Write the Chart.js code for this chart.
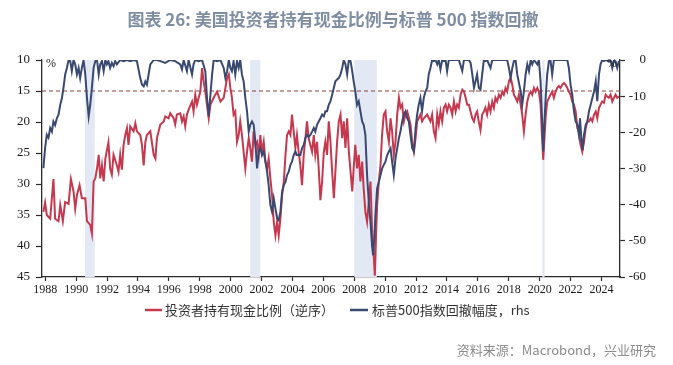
<!DOCTYPE html>
<html>
<head>
<meta charset="utf-8">
<script src="https://cdn.jsdelivr.net/npm/chart.js@4.4.1/dist/chart.umd.min.js"></script>
<style>
html,body{margin:0;padding:0;background:#fff;}
#wrap{width:673px;height:365px;position:relative;}
</style>
</head>
<body>
<div id="wrap"><canvas id="c" width="673" height="365"></canvas></div>
<script>
// ---- data ----
const titleText = "图表 26: 美国投资者持有现金比例与标普 500 指数回撤";
const sourceText = "资料来源：Macrobond，兴业研究";
const seriesNames = ["投资者持有现金比例（逆序）", "标普500指数回撤幅度，rhs"];
const xTickYears = [1988,1990,1992,1994,1996,1998,2000,2002,2004,2006,2008,2010,2012,2014,2016,2018,2020,2022,2024];
const xRange = [1987.79, 2025.2];
const leftRange = [10, 45];
const rightRange = [-60, 0];
const refLevel = 15;
const recessions = [[1990.58,1991.2],[2001.27,2001.92],[2008.0,2009.46],[2020.17,2020.32]];

const cashYears = [
1987.88,1987.99,1988.10,1988.32,1988.53,1988.64,1988.86,1988.97,1989.14,1989.29,1989.51,1989.66,1989.83,1989.94,
1990.05,1990.22,1990.37,1990.59,1990.70,1990.91,1991.02,1991.13,1991.24,1991.35,1991.46,1991.56,1991.67,1991.78,1991.89,
1992.09,1992.20,1992.31,1992.42,1992.64,1992.74,1992.85,1992.96,1993.07,1993.18,1993.29,1993.39,1993.50,1993.72,1993.83,1993.93,
1994.15,1994.26,1994.37,1994.48,1994.58,1994.80,1995.02,1995.13,1995.23,1995.45,1995.67,1995.77,1995.98,
1996.09,1996.31,1996.41,1996.52,1996.74,1996.85,1996.96,1997.06,1997.17,1997.28,1997.50,1997.60,1997.71,1997.82,1997.93,
1998.04,1998.15,1998.25,1998.36,1998.58,1998.69,1998.90,1999.12,1999.34,1999.55,1999.77,1999.88,1999.98,
2000.08,2000.19,2000.30,2000.41,2000.52,2000.62,2000.73,2000.84,2000.95,2001.06,2001.17,2001.27,2001.38,2001.49,2001.60,2001.71,2001.82,2001.92,
2002.03,2002.14,2002.25,2002.36,2002.46,2002.57,2002.68,2002.79,2002.90,2003.01,2003.11,2003.22,2003.33,2003.44,2003.55,2003.65,2003.76,2003.87,2003.97,
2004.08,2004.19,2004.29,2004.40,2004.51,2004.62,2004.73,2004.84,2004.94,2005.05,2005.16,2005.27,2005.38,2005.48,2005.59,2005.70,2005.81,2005.92,
2006.03,2006.13,2006.24,2006.35,2006.46,2006.57,2006.68,2006.78,2006.89,2007.00,2007.11,2007.22,2007.32,2007.43,2007.54,2007.65,2007.76,2007.87,2007.96,
2008.07,2008.18,2008.29,2008.40,2008.51,2008.61,2008.72,2008.83,2008.94,2009.05,2009.15,2009.26,2009.33,2009.41,2009.48,2009.59,2009.70,2009.80,2009.91,
2010.02,2010.13,2010.24,2010.35,2010.45,2010.56,2010.67,2010.78,2010.89,2010.99,2011.10,2011.21,2011.32,2011.43,2011.64,2011.75,2011.86,2011.97,
2012.07,2012.17,2012.28,2012.39,2012.50,2012.72,2012.93,2013.04,2013.15,2013.26,2013.37,2013.47,2013.58,2013.69,2013.80,2013.91,
2014.01,2014.12,2014.23,2014.34,2014.45,2014.56,2014.66,2014.77,2014.88,2014.99,2015.10,2015.21,2015.31,2015.42,2015.53,2015.64,2015.75,2015.85,2015.95,
2016.06,2016.17,2016.28,2016.39,2016.49,2016.60,2016.71,2016.82,2016.93,2017.04,2017.14,2017.25,2017.36,2017.47,2017.58,2017.68,2017.79,2017.90,
2018.01,2018.12,2018.23,2018.33,2018.44,2018.55,2018.66,2018.77,2018.87,2018.98,2019.09,2019.20,2019.31,2019.42,2019.52,2019.63,2019.74,2019.85,2019.95,
2020.06,2020.16,2020.23,2020.31,2020.40,2020.49,2020.60,2020.70,2020.81,2020.92,2021.03,2021.14,2021.25,2021.35,2021.46,2021.57,2021.68,2021.79,2021.89,
2022.00,2022.11,2022.22,2022.33,2022.44,2022.54,2022.65,2022.76,2022.87,2022.98,2023.09,2023.19,2023.30,2023.41,2023.52,2023.63,2023.73,2023.84,2023.94,
2024.05,2024.16,2024.27,2024.37,2024.48,2024.59,2024.70,2024.81,2024.91,2025.02,2025.13
];
const cashValues = [
34.5,33.0,35.0,35.6,29.2,35.6,36.0,33.4,36.0,32.9,33.2,29.2,31.2,34.0,
31.8,30.2,32.3,32.3,36.0,36.6,38.0,29.6,29.1,27.5,25.3,29.1,27.0,29.6,25.9,
23.3,27.5,28.5,25.3,27.0,28.0,25.3,27.7,23.7,22.1,21.0,23.7,20.7,21.5,20.2,21.5,
22.1,23.7,27.0,23.2,22.1,21.5,25.3,25.9,22.6,20.4,19.9,19.1,19.4,
18.6,19.4,20.4,18.8,18.6,19.9,19.1,20.7,18.8,18.0,16.7,18.3,15.6,17.2,16.1,
15.1,11.3,13.4,15.1,19.4,17.2,16.1,15.1,16.7,16.1,12.9,12.3,14.5,
16.0,18.8,18.3,23.2,22.1,19.9,22.1,24.8,27.5,24.8,22.6,24.2,26.4,21.5,23.7,23.2,25.3,22.1,
24.8,23.2,26.4,27.5,25.9,29.1,31.8,36.1,38.3,36.1,38.3,35.6,31.8,29.6,25.3,22.1,21.5,22.1,18.8,
21.5,24.2,22.1,24.8,27.0,30.2,25.3,22.6,19.9,22.6,23.7,24.8,22.1,25.3,23.2,27.5,32.6,29.6,
24.8,23.2,25.3,19.9,23.2,28.0,32.3,28.0,23.2,19.9,18.8,22.6,19.9,24.2,19.4,24.8,28.0,31.2,27.5,
23.7,27.5,25.3,29.6,26.4,30.7,34.5,36.1,32.9,29.6,37.2,41.5,44.8,38.3,33.4,29.6,26.9,22.1,18.8,
18.3,21.5,23.2,19.4,21.5,25.3,23.2,18.8,16.1,17.7,17.2,19.9,18.8,18.3,20.4,23.2,24.8,22.6,
19.9,19.4,18.8,19.9,19.4,18.8,19.9,18.8,21.5,22.6,18.8,20.4,18.3,19.9,17.7,17.2,
18.3,17.2,17.7,18.8,16.7,18.3,17.2,17.7,15.6,14.8,15.1,16.1,17.2,17.2,18.3,19.4,19.9,18.8,18.3,
19.9,21.3,18.8,18.3,17.7,18.8,17.2,18.3,16.7,17.7,16.1,16.7,15.6,16.1,15.1,15.6,14.5,15.1,
13.4,12.9,14.0,15.6,16.1,16.7,15.6,17.2,18.8,21.5,18.8,16.7,15.6,15.1,15.6,14.5,15.1,14.5,15.1,
17.2,22.6,26.1,22.6,18.8,16.7,16.1,15.6,15.1,16.1,15.1,14.5,14.2,14.5,14.0,13.7,14.0,14.5,15.1,
15.6,16.7,17.2,18.3,21.0,21.5,23.7,24.8,23.2,21.0,19.9,19.9,19.4,19.9,18.8,18.3,19.4,17.7,17.2,
16.7,16.9,15.6,15.9,16.1,15.6,16.7,16.1,15.6,16.1,15.9
];

const ddYears = [
1987.88,1987.99,1988.10,1988.21,1988.32,1988.43,1988.53,1988.64,1988.75,1988.86,1988.97,1989.08,1989.18,1989.29,1989.40,1989.51,1989.62,1989.72,1989.83,1989.94,
1990.05,1990.16,1990.26,1990.37,1990.48,1990.59,1990.70,1990.81,1990.91,1991.02,1991.13,1991.24,1991.35,1991.46,1991.56,1991.67,1991.78,1991.89,1991.99,
1992.09,1992.20,1992.31,1992.42,1992.53,1992.64,1992.85,1993.07,1993.29,1993.50,1993.72,1993.93,
1994.15,1994.26,1994.37,1994.48,1994.58,1994.69,1994.80,1995.02,1995.23,1995.45,1995.77,1996.09,1996.41,1996.74,1996.85,1996.96,
1997.17,1997.28,1997.50,1997.60,1997.71,1997.93,1998.15,1998.36,1998.47,1998.58,1998.69,1998.80,1998.90,1999.12,1999.34,1999.55,1999.66,1999.77,1999.88,1999.98,
2000.08,2000.19,2000.30,2000.41,2000.52,2000.62,2000.73,2000.84,2000.95,2001.06,2001.17,2001.27,2001.38,2001.49,2001.60,2001.71,2001.82,2001.92,
2002.03,2002.14,2002.25,2002.36,2002.46,2002.57,2002.68,2002.79,2002.90,2003.01,2003.11,2003.22,2003.33,2003.44,2003.55,2003.65,2003.76,2003.87,2003.97,
2004.08,2004.19,2004.29,2004.40,2004.51,2004.62,2004.73,2004.84,2004.94,2005.05,2005.16,2005.27,2005.38,2005.48,2005.59,2005.70,2005.81,2005.92,
2006.03,2006.13,2006.24,2006.35,2006.46,2006.57,2006.68,2006.78,2006.89,2007.00,2007.11,2007.22,2007.32,2007.43,2007.54,2007.65,2007.76,2007.87,2007.96,
2008.07,2008.18,2008.29,2008.40,2008.51,2008.61,2008.72,2008.83,2008.94,2009.05,2009.15,2009.22,2009.31,2009.37,2009.48,2009.59,2009.70,2009.80,2009.91,
2010.02,2010.13,2010.24,2010.35,2010.45,2010.56,2010.67,2010.78,2010.89,2010.99,2011.10,2011.21,2011.32,2011.43,2011.53,2011.64,2011.75,2011.86,2011.97,
2012.07,2012.17,2012.28,2012.39,2012.50,2012.61,2012.72,2012.82,2012.93,2013.04,2013.15,2013.26,2013.37,2013.47,2013.58,2013.69,2013.80,2013.91,
2014.01,2014.12,2014.45,2014.77,2014.99,2015.10,2015.42,2015.53,2015.64,2015.75,2015.85,2015.95,2016.06,2016.17,2016.28,2016.39,2016.49,2016.60,2016.82,2016.93,
2017.90,2018.01,2018.12,2018.23,2018.33,2018.44,2018.55,2018.77,2018.87,2018.98,2019.09,2019.20,2019.31,2019.42,2019.52,2019.63,2019.85,2019.95,
2020.06,2020.16,2020.23,2020.31,2020.40,2020.49,2020.60,2020.70,2020.81,2020.92,2021.79,2021.89,
2022.00,2022.11,2022.22,2022.33,2022.44,2022.54,2022.61,2022.70,2022.78,2022.87,2022.98,2023.09,2023.19,2023.30,2023.41,2023.52,2023.63,2023.73,2023.84,2023.94,
2024.05,2024.16,2024.27,2024.48,2024.59,2024.70,2024.81,2024.91,2025.02,2025.13
];
const ddValues = [
-29.9,-24.4,-20.7,-21.5,-18.8,-19.8,-17.0,-18.0,-16.1,-15.1,-12.4,-10.5,-7.7,-4.0,-2.2,0,-0.3,-3.1,0,-1.2,
-4.0,-2.2,-5.0,-2.2,0,-4.0,-10.5,-15.6,-12.4,-7.7,-2.2,-0.3,0,-4.0,-1.2,-0.3,-3.1,0,-1.2,
-0.3,-2.2,-0.8,-1.7,-0.3,-1.2,0,-0.3,0,-0.3,0,-0.3,
-5.0,-6.8,-7.3,-5.9,-6.8,-4.0,-1.2,0,0,-0.3,-0.8,0,-0.3,-1.2,-2.6,0,
-3.1,0,-4.0,-1.2,0,-0.3,0,-3.1,-10.5,-15.6,-9.6,-4.0,0,-0.3,0,-2.2,-5.0,-3.1,0,-2.2,
-3.1,-0.3,-4.0,-0.3,-2.2,0,-4.0,-5.9,-10.5,-14.2,-19.8,-17.9,-17.0,-17.9,-22.6,-30.0,-25.3,-24.4,
-26.3,-25.3,-28.1,-30.9,-34.6,-40.1,-42.0,-38.3,-41.1,-43.8,-44.3,-42.0,-36.4,-34.6,-33.7,-31.8,-30.9,-29.0,-28.1,
-26.3,-25.3,-26.3,-26.3,-26.3,-24.4,-23.5,-21.6,-20.7,-21.2,-20.7,-19.8,-18.8,-19.8,-17.9,-17.0,-16.1,-15.1,
-15.6,-14.2,-14.2,-12.4,-11.4,-9.6,-7.7,-5.9,-5.4,-5.0,-4.0,-2.2,0,-1.2,-4.0,0,-0.3,-3.1,-5.9,
-8.7,-12.4,-11.4,-14.2,-17.0,-17.9,-20.7,-31.8,-39.2,-44.8,-51.3,-54.0,-48.5,-43.0,-35.5,-33.7,-31.8,-30.0,-29.0,
-28.1,-26.3,-25.3,-24.4,-28.1,-31.8,-27.2,-24.4,-21.6,-19.8,-17.0,-15.1,-14.2,-16.1,-17.0,-20.7,-24.4,-25.3,-18.8,
-15.1,-12.4,-10.5,-14.2,-10.5,-8.7,-7.7,-4.0,-2.2,0,-0.3,0,-1.2,0,-2.6,0,-0.3,0,
-3.1,0,0,0,-3.0,0,0,-0.8,-4.0,-7.7,-5.9,-4.0,-7.7,-8.2,-4.0,0,-0.3,0,-2.2,0,
0,-2.2,-5.0,-2.2,-0.3,0,-4.0,-8.7,-12.4,-8.7,-4.0,-1.2,-3.1,0,-1.2,0,-1.2,0,
-5.9,-17.0,-25.3,-17.0,-9.6,-4.0,-0.3,0,-4.0,0,0,-2.2,
-6.8,-9.6,-14.2,-17.0,-17.9,-20.7,-16.1,-21.6,-24.9,-20.7,-17.9,-17.0,-14.2,-12.4,-10.5,-8.7,-5.9,-11.4,-4.0,-1.2,
0,-0.3,0,-0.3,0,-2.2,0,-0.3,-2.2,-0.3
];

// ---- styles ----
const RED = '#C6384E';
const BLUE = '#3A4970';
const AXIS = '#2a2a2a';
const tickFontX = {family: '"Liberation Serif", "DejaVu Serif", serif', size: 12};
const tickFontY = {family: '"Liberation Serif", "DejaVu Serif", serif', size: 13};

const toXY = (xs, ys) => xs.map((x, i) => ({x: x, y: ys[i]}));

const decorPlugin = {
  id: 'decor',
  beforeDatasetsDraw(chart) {
    const {ctx, chartArea, scales} = chart;
    ctx.save();
    ctx.beginPath();
    ctx.rect(chartArea.left, chartArea.top, chartArea.right - chartArea.left, chartArea.bottom - chartArea.top);
    ctx.clip();
    ctx.fillStyle = '#E2E9F5';
    recessions.forEach(([a, b]) => {
      const x0 = scales.x.getPixelForValue(a);
      const x1 = scales.x.getPixelForValue(b);
      ctx.fillRect(x0, chartArea.top, Math.max(1.5, x1 - x0), chartArea.bottom - chartArea.top);
    });
    ctx.restore();
  },
  afterDraw(chart) {
    const {ctx, chartArea} = chart;
    ctx.save();
    // title
    ctx.font = 'bold 17px "Noto Sans CJK SC", "Noto Sans", sans-serif';
    ctx.fillStyle = '#7F8DA3';
    ctx.textAlign = 'center';
    ctx.textBaseline = 'middle';
    ctx.fillText(titleText, 333, 20);
    // unit labels
    ctx.font = '12px "Liberation Serif", serif';
    ctx.fillStyle = '#222';
    ctx.textAlign = 'left';
    ctx.fillText('%', chartArea.left + 4, chartArea.top + 4);
    ctx.fillText('%', chartArea.right - 13, chartArea.top + 4);
    // legend
    const ly = 310;
    ctx.lineWidth = 2.5;
    ctx.strokeStyle = RED;
    ctx.beginPath(); ctx.moveTo(145, ly); ctx.lineTo(162, ly); ctx.stroke();
    ctx.strokeStyle = BLUE;
    ctx.beginPath(); ctx.moveTo(350, ly); ctx.lineTo(368, ly); ctx.stroke();
    ctx.font = '13px "Noto Sans CJK SC", sans-serif';
    ctx.fillStyle = '#333';
    ctx.textBaseline = 'middle';
    ctx.fillText(seriesNames[0], 165, ly);
    ctx.fillText(seriesNames[1], 372, ly);
    // source
    ctx.font = '13px "Noto Sans CJK SC", sans-serif';
    ctx.fillStyle = '#8C8C8C';
    ctx.textAlign = 'right';
    ctx.fillText(sourceText, 656, 350);
    ctx.restore();
  }
};

new Chart(document.getElementById('c'), {
  type: 'line',
  data: {
    datasets: [
      {label: seriesNames[0], data: toXY(cashYears, cashValues), yAxisID: 'yL', borderColor: RED, borderWidth: 2, pointRadius: 0, tension: 0, order: 1},
      {label: seriesNames[1], data: toXY(ddYears, ddValues), yAxisID: 'yR', borderColor: BLUE, borderWidth: 2, pointRadius: 0, tension: 0, order: 0},
      {label: 'ref', data: [{x: xRange[0], y: refLevel}, {x: xRange[1], y: refLevel}], yAxisID: 'yL', borderColor: '#8E3F3F', borderWidth: 1, borderDash: [4, 3], pointRadius: 0, order: 2}
    ]
  },
  options: {
    responsive: false,
    animation: false,
    devicePixelRatio: 1,
    layout: {padding: {left: 0, right: 27, top: 60, bottom: 64}},
    plugins: {legend: {display: false}, tooltip: {enabled: false}, title: {display: false}},
    scales: {
      x: {
        type: 'linear', position: 'bottom', min: xRange[0], max: xRange[1],
        afterBuildTicks: s => { s.ticks = xTickYears.map(v => ({value: v})); },
        afterFit: s => { s.height = 24; },
        grid: {drawOnChartArea: false, drawTicks: true, tickLength: 4, tickColor: AXIS, tickWidth: 1.2},
        border: {display: true, color: AXIS, width: 1.3},
        ticks: {autoSkip: false, maxRotation: 0, padding: 2, color: '#1a1a1a', font: tickFontX, callback: v => String(v)}
      },
      yL: {
        type: 'linear', position: 'left', reverse: true, min: leftRange[0], max: leftRange[1],
        afterFit: s => { s.width = 42; },
        grid: {drawOnChartArea: false, drawTicks: true, tickLength: 6, tickColor: AXIS, tickWidth: 1.2},
        border: {display: true, color: AXIS, width: 1.3},
        ticks: {stepSize: 5, padding: 6, color: '#1a1a1a', font: tickFontY}
      },
      yR: {
        type: 'linear', position: 'right', min: rightRange[0], max: rightRange[1],
        afterFit: s => { s.width = 26; },
        grid: {drawOnChartArea: false, drawTicks: true, tickLength: 5, tickColor: AXIS, tickWidth: 1.2},
        border: {display: true, color: AXIS, width: 1.3},
        ticks: {stepSize: 10, padding: 4, crossAlign: 'far', color: '#1a1a1a', font: tickFontY}
      }
    }
  },
  plugins: [decorPlugin]
});
</script>
</body>
</html>
